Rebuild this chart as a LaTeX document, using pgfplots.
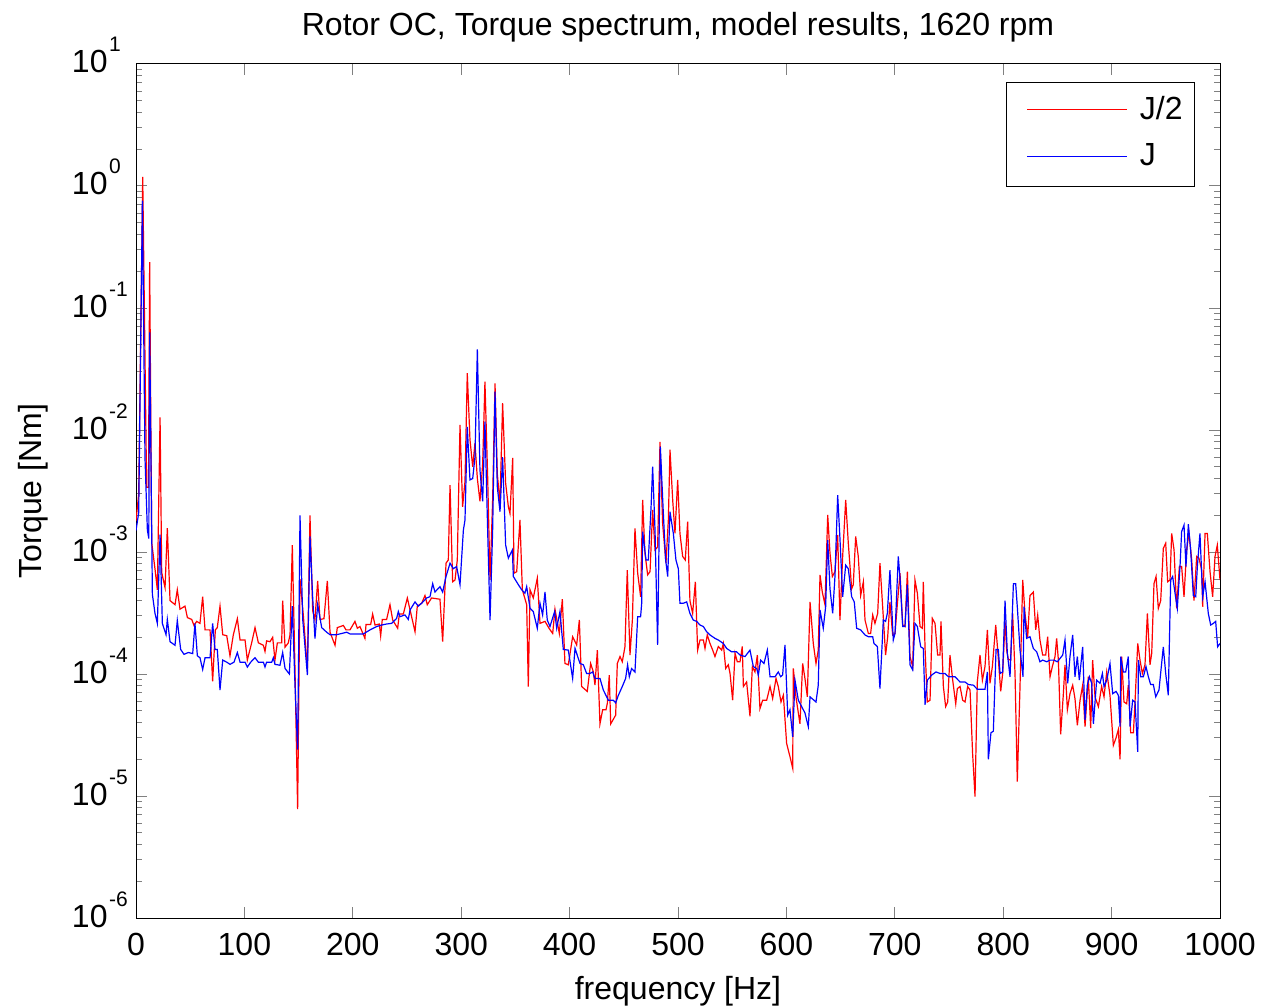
\documentclass[border=0pt]{standalone}
\usepackage{fontspec}
\setmainfont{Liberation Sans}
\usepackage{pgfplots}
\pgfplotsset{compat=1.18}
\newcommand{\f}{\fontsize{16}{19}\selectfont}
\newcommand{\ex}[1]{10\kern0.8pt\raisebox{10.5pt}{\fontsize{10.5}{12}\selectfont #1}}
\begin{document}
\begin{tikzpicture}
\useasboundingbox (-68pt,-44pt) rectangle (563.5pt,459pt);
\begin{axis}[
  at={(0pt,0pt)}, anchor=south west,
  scale only axis, width=542pt, height=427pt,
  xmin=0, xmax=1000, ymode=log, ymin=1e-6, ymax=10,
  xtick={0,100,200,300,400,500,600,700,800,900,1000},
  xticklabels={0,100,200,300,400,500,600,700,800,900,1000},
  ytick={1e-6,1e-5,1e-4,1e-3,1e-2,1e-1,1,10},
  yticklabels={\ex{-6},\ex{-5},\ex{-4},\ex{-3},\ex{-2},\ex{-1},\ex{0},\ex{1}},
  minor ytick={2e-6,3e-6,4e-6,5e-6,6e-6,7e-6,8e-6,9e-6,2e-5,3e-5,4e-5,5e-5,6e-5,7e-5,8e-5,9e-5,2e-4,3e-4,4e-4,5e-4,6e-4,7e-4,8e-4,9e-4,2e-3,3e-3,4e-3,5e-3,6e-3,7e-3,8e-3,9e-3,2e-2,3e-2,4e-2,5e-2,6e-2,7e-2,8e-2,9e-2,0.2,0.3,0.4,0.5,0.6,0.7,0.8,0.9,2,3,4,5,6,7,8,9},
  tick pos=both, tick align=inside,
  major tick length=5.5pt, minor tick length=3pt,
  tick style={line width=0.5pt},
  axis line style={line width=0.5pt},
  xticklabel style={font=\f, anchor=base, yshift=-18.5pt, inner sep=0pt},
  yticklabel style={font=\f, anchor=base west, xshift=-32.2pt, yshift=-4.5pt, inner sep=0pt},
  title={Rotor OC, Torque spectrum, model results, 1620 rpm},
  title style={at={(axis description cs:0.5,1)}, anchor=base, yshift=8pt, font=\f, inner sep=0pt},
  xlabel={frequency [Hz]},
  xlabel style={at={(axis description cs:0.5,-0.0960)}, anchor=base, font=\f, inner sep=0pt},
  ylabel={Torque [Nm]},
  ylabel style={at={(axis description cs:-0.0876,0.5)}, anchor=base, rotate=0, font=\f, inner sep=0pt},
  legend style={name=leg, at={(axis description cs:0.9769,0.9789)}, anchor=north east, draw=none, fill=white, font=\f, inner xsep=6pt, inner ysep=7pt, row sep=8pt, column sep=6pt, nodes={inner sep=0pt, text height=11.5pt, text depth=3.5pt}},
  legend cell align=left,
  legend image code/.code={\path (-4pt,0pt) (50pt,0pt);},
]
\addplot[color=red, line width=0.6pt] coordinates {
(0,1.8e-3)(2.5,3.0e-3)(6.2,1.19)(9.8,3.4e-3)(11.5,3.4e-3)(12.6,0.238)(14.5,1.19e-3)(17.5,7.3e-4)(19.7,4.9e-4)(22.2,1.27e-2)(23.7,6.8e-4)(26.8,5.1e-4)(28.9,1.57e-3)(31.4,4.0e-4)(36,3.7e-4)(38.1,4.9e-4)(40.6,3.4e-4)(45.2,3.6e-4)(47.4,2.9e-4)(51.4,2.8e-4)(53.5,2.5e-4)(56,2.7e-4)(59,2.6e-4)(61.5,4.3e-4)(63.7,2.3e-4)(68.3,2.3e-4)(70.7,8.7e-5)(73.2,2.3e-4)(75,2.4e-4)(77.5,3.6e-4)(80,2.1e-4)(83.7,2.06e-4)(86.7,1.41e-4)(89.8,2.1e-4)(93.5,2.84e-4)(96,1.9e-4)(100.6,1.9e-4)(102.7,1.3e-4)(106.7,1.8e-4)(109.8,2.4e-4)(112.9,1.8e-4)(117.5,1.72e-4)(119,1.53e-4)(120.5,1.87e-4)(123.6,1.84e-4)(126.1,2.0e-4)(128.2,1.3e-4)(130.4,1.8e-4)(134.4,1.8e-4)(135.3,4.0e-4)(137.5,1.66e-4)(140.5,1.8e-4)(142.1,2.1e-4)(144.2,1.14e-3)(146.7,1.06e-4)(149.1,7.8e-6)(151.3,6e-4)(154.4,3.0e-4)(158.1,1.1e-4)(160.5,2.0e-3)(163,3.3e-4)(165.1,2.8e-4)(167.6,5.8e-4)(169.7,2.8e-4)(173.4,2.84e-4)(176.5,5.8e-4)(179,2.2e-4)(183.6,1.72e-4)(185.7,2.4e-4)(191.3,2.5e-4)(193.7,2.3e-4)(197.4,2.3e-4)(202,2.7e-4)(204.2,2.37e-4)(206.6,2.45e-4)(211.2,1.96e-4)(212.2,2.55e-4)(216.5,2.55e-4)(218.3,3.1e-4)(220.5,2.52e-4)(224.5,2.57e-4)(225.7,2.05e-4)(227.2,2.8e-4)(231.2,2.8e-4)(234.3,3.7e-4)(236.8,2.77e-4)(241.4,2.37e-4)(242.9,3.1e-4)(246.6,3.1e-4)(250.3,4.2e-4)(253.7,3.1e-4)(257.4,2.22e-4)(259.5,3.6e-4)(263.5,3.8e-4)(266.6,4.4e-4)(268.7,3.7e-4)(272.7,4.2e-4)(280.4,4.1e-4)(282.9,1.84e-4)(286,8.1e-4)(288.1,8.6e-4)(289.7,3.54e-3)(292.1,5.7e-4)(294.3,5.9e-4)(296.4,8.6e-4)(298.9,1.1e-2)(301.3,2.35e-3)(303.5,3.8e-3)(305.6,2.92e-2)(308.1,8.3e-3)(310.6,5.0e-3)(312.7,7.8e-3)(314.9,4.0e-3)(317.3,2.6e-3)(319.8,5.3e-3)(321.9,2.49e-2)(324.4,4.15e-3)(326.6,5.9e-4)(329,2.67e-3)(331.2,2.41e-2)(333.3,4.4e-3)(335.8,2.5e-3)(338.2,1.66e-2)(341,3.66e-3)(343.5,2.35e-3)(345,2.07e-3)(347.5,5.9e-3)(348.7,6.7e-4)(351.2,6.9e-4)(354.2,1.83e-3)(356.4,4.9e-4)(360.4,3.7e-4)(361.9,7.9e-5)(363.5,4.9e-4)(366.5,4.2e-4)(370.2,6.1e-4)(372.7,2.6e-4)(377.3,2.7e-4)(381,2.37e-4)(384.4,2.15e-4)(386.5,3.4e-4)(390.5,2.15e-4)(393.3,4.1e-4)(395.7,1.22e-4)(398.8,1.19e-4)(402.8,2.02e-4)(406.5,1.73e-4)(409,2.77e-4)(411.1,7.9e-5)(416.3,7.2e-5)(419.4,1.22e-4)(421.9,1.04e-4)(423.4,8.1e-5)(425.6,1.57e-4)(428,3.9e-5)(430.5,5.1e-5)(433.6,5.1e-5)(434.8,5.75e-5)(436.6,9.8e-5)(437.9,3.9e-5)(440.3,4.25e-5)(442.5,4.6e-5)(444,1.22e-4)(446.5,1.39e-4)(448.6,1.26e-4)(451.1,1.68e-4)(453.2,7.1e-4)(455.7,1.43e-4)(457.9,2.77e-4)(460.3,1.56e-3)(462.8,6.7e-4)(465.5,4.3e-4)(467.4,2.67e-3)(469.5,9.8e-4)(472,6.5e-4)(474.2,6.9e-4)(476.6,2.21e-3)(478.8,1.04e-3)(481.2,1.1e-3)(483.4,8.0e-3)(485.8,1.72e-3)(488.9,8.1e-4)(491.1,1.83e-3)(492.6,6.9e-3)(495.1,2.67e-3)(497.2,1.42e-3)(499.7,3.9e-3)(501.8,1.42e-3)(504.3,9.2e-4)(506.7,8.6e-4)(508.9,1.77e-3)(511,4.0e-4)(513.5,3.14e-4)(516,5.7e-4)(518.1,1.57e-4)(520.3,1.9e-4)(523.4,1.9e-4)(524.9,1.62e-4)(527,2.09e-4)(529.5,1.78e-4)(532,1.57e-4)(534.1,1.39e-4)(537.2,1.68e-4)(540.3,1.57e-4)(541.8,1.78e-4)(544,1.11e-4)(546.4,1.19e-4)(548,1.01e-4)(550.4,6.1e-5)(552.6,1.48e-4)(554.7,1.26e-4)(557.2,1.26e-4)(559.3,1.68e-4)(560.3,7.9e-5)(563.3,8.6e-5)(566.4,4.5e-5)(568.6,1.15e-4)(571,1.04e-4)(573.2,1.43e-4)(575.6,5.2e-5)(578.1,6.1e-5)(581.8,6.1e-5)(584.9,7.9e-5)(587.3,6.3e-5)(590.4,9.2e-5)(592.5,7.9e-5)(595,5.9e-5)(597.2,6.7e-5)(600.2,2.7e-5)(603.3,2.1e-5)(605.8,1.69e-5)(606.4,1.11e-4)(608.8,6.5e-5)(611,4.8e-5)(612.5,3.9e-5)(615,1.22e-4)(617.1,9.2e-5)(619.3,6.5e-5)(621.8,3.9e-4)(624.8,1.78e-4)(627.3,1.22e-4)(629.4,1.57e-4)(631,6.5e-4)(633.1,4.7e-4)(635.6,3.7e-4)(638.1,2.01e-3)(640.2,9.8e-4)(642.4,6.3e-4)(644.8,6.9e-4)(647.3,1.38e-3)(649.4,2.77e-4)(651.9,9.2e-4)(654.7,2.67e-3)(657.1,1.18e-3)(660.2,5.0e-4)(661.7,5.4e-4)(663.9,1.34e-3)(666.3,9.2e-4)(668.5,4.4e-4)(671,5.7e-4)(672.5,2.77e-4)(675.6,2.15e-4)(677.7,2.15e-4)(679.6,3.05e-4)(681.7,2.6e-4)(684.2,3.14e-4)(686.3,8.1e-4)(688.8,3.56e-4)(691.5,1.43e-4)(693.4,2.0e-4)(695.5,3.9e-4)(698,2.09e-4)(700.2,2.15e-4)(702.3,3.7e-4)(704.8,6.7e-4)(707.3,2.52e-4)(709.4,2.45e-4)(711.6,6.9e-4)(714,1.39e-4)(716.5,1.15e-4)(718.6,5.9e-4)(720.8,4.6e-4)(723.3,2.45e-4)(725.4,2.37e-4)(726.3,5.7e-4)(727.9,1.62e-4)(730,5.9e-5)(732.5,6.1e-5)(734.6,2.86e-4)(737.1,2.6e-4)(739.5,1.43e-4)(741.7,1.43e-4)(742.6,2.7e-4)(744.8,7.9e-5)(746.9,5.4e-5)(748.8,5.9e-5)(750.9,1.43e-4)(753.4,8.9e-5)(756.2,5.7e-5)(757.7,7.6e-5)(760.2,7.9e-5)(762.6,6.1e-5)(764.8,5.9e-5)(767.2,7.9e-5)(769.4,7.4e-5)(771.8,2.2e-5)(774,9.9e-6)(776.1,8.6e-5)(778.6,1.43e-4)(780.8,8.9e-5)(783.2,1.15e-4)(785.4,2.3e-4)(787.8,8.4e-5)(790,1.15e-4)(793.1,2.52e-4)(794.9,1.57e-4)(797.7,7.2e-5)(799.5,1.01e-4)(801.7,2.7e-4)(803.2,1.57e-4)(804.7,1.32e-4)(806.9,1.3e-4)(808.7,3.14e-4)(810.9,1.01e-4)(813,1.31e-5)(815.5,7.9e-5)(818,5.9e-4)(820.1,3.14e-4)(822.6,2.02e-4)(824.7,4.4e-4)(827.8,4.7e-4)(830,2.3e-4)(831.8,3.04e-4)(833.9,1.9e-4)(836.4,1.43e-4)(839.2,1.43e-4)(841,2.02e-4)(843.2,9.5e-5)(845.3,1.15e-4)(847.8,1.39e-4)(849.3,1.96e-4)(850.9,1.3e-4)(853,3.2e-5)(855.5,6.9e-5)(857,1.19e-4)(859.2,5.1e-5)(861.6,6.9e-5)(864.1,8.1e-5)(866.2,6.3e-5)(868.4,3.8e-5)(870.9,6.1e-5)(873.3,8.1e-5)(875.5,3.7e-5)(878.5,9.5e-5)(880.7,3.6e-5)(882.5,1.3e-4)(884.7,6.5e-5)(887.8,5.4e-5)(890.8,7.9e-5)(893,6.5e-5)(895.5,1.04e-4)(898.5,6.7e-5)(901.6,2.6e-5)(904.1,3.0e-5)(906.2,3.5e-5)(907.8,2.0e-5)(909.3,1.39e-4)(911.4,5.9e-5)(913.9,5.7e-5)(915.4,8.1e-5)(917.6,3.3e-5)(920.1,3.3e-5)(921.6,5.9e-5)(924.1,1.78e-4)(926.2,1.3e-4)(928.4,1.01e-4)(930.8,1.19e-4)(933,3.14e-4)(935.4,1.19e-4)(937,1.48e-4)(939.1,5.5e-4)(941,6.3e-4)(943.1,3.45e-4)(945.3,4.0e-4)(947.7,1.07e-3)(949.9,1.18e-3)(951.7,5.7e-4)(953.9,5.9e-4)(955.4,1.42e-3)(957.6,1.04e-3)(960,3.45e-4)(962.5,7.6e-4)(964.6,7.6e-4)(966.8,4.3e-4)(969.2,1.04e-3)(971.4,1.42e-3)(973.9,8.6e-4)(976,4.0e-4)(978.5,9.2e-4)(980.6,8.9e-4)(983.1,7.1e-4)(984,3.56e-4)(986.2,1.42e-3)(988.3,1.42e-3)(990.8,6.9e-4)(993.2,4.3e-4)(995.4,9.2e-4)(997.5,1.14e-3)(1000,5.9e-4)
};
\addlegendentry{J/2}
\addplot[color=blue, line width=0.6pt] coordinates {
(0,1.5e-3)(2.5,2.1e-3)(5.9,0.76)(8.3,5.9e-3)(10.5,1.51e-3)(11.8,1.29e-3)(12.6,0.063)(15.1,4.5e-4)(17.5,3.15e-4)(19.7,2.6e-4)(22.2,1.39e-3)(24.3,2.6e-4)(27.7,2.1e-4)(28.9,2.8e-4)(31.4,1.84e-4)(36,1.72e-4)(38.1,2.75e-4)(41.2,1.59e-4)(44.3,1.45e-4)(48.3,1.5e-4)(52.3,1.47e-4)(54.4,2.6e-4)(56.6,1.41e-4)(59,1.36e-4)(61.5,1.09e-4)(63.7,1.36e-4)(68.3,1.36e-4)(70.7,2.6e-4)(72.9,1.59e-4)(75,1.59e-4)(77.5,7.4e-5)(80,1.3e-4)(83.7,1.25e-4)(86.7,1.2e-4)(90.4,1.25e-4)(93.5,1.5e-4)(96,1.25e-4)(100.6,1.25e-4)(102.7,1.14e-4)(105.8,1.25e-4)(109.8,1.36e-4)(112.9,1.25e-4)(117.5,1.25e-4)(119,1.14e-4)(120.5,1.25e-4)(125.2,1.25e-4)(126.7,1.36e-4)(128.2,1.2e-4)(132.8,1.18e-4)(135.3,1.5e-4)(137.5,1.11e-4)(141.5,1.0e-4)(144.2,3.6e-4)(146.7,8.0e-5)(149.1,2.4e-5)(151.3,2.0e-3)(153.8,2.8e-4)(158.1,9.8e-5)(160.5,1.34e-3)(163,4.2e-4)(165.1,1.95e-4)(167.6,3.7e-4)(171.3,2.4e-4)(175.9,2.2e-4)(179,2.1e-4)(185.1,2.1e-4)(194.4,2.2e-4)(197.4,2.13e-4)(209.7,2.13e-4)(215.9,2.3e-4)(222,2.45e-4)(226.6,2.52e-4)(231.2,2.57e-4)(235.8,2.6e-4)(240.4,2.85e-4)(242,3.25e-4)(243.5,2.95e-4)(248.1,3.05e-4)(251.2,2.8e-4)(252.8,3.35e-4)(257.4,3.9e-4)(260.4,3.6e-4)(263.5,3.8e-4)(268.1,4.2e-4)(271.2,4.3e-4)(273.7,5.5e-4)(275.8,4.7e-4)(280.4,5.2e-4)(282.9,4.7e-4)(286,6.3e-4)(289.7,8.1e-4)(292.7,7.3e-4)(295.8,7.6e-4)(298.9,5.4e-4)(302,1.51e-3)(303.5,1.83e-3)(305.6,1.06e-2)(308.1,3.9e-3)(310.6,4.0e-3)(312.7,6.0e-3)(314.9,4.58e-2)(317.3,4.7e-3)(319.8,2.6e-3)(321.9,1.17e-2)(324.4,1.51e-3)(326.6,2.77e-4)(329,1.51e-3)(331.2,2.06e-2)(333.3,3.43e-3)(335.8,2.14e-3)(338.2,6.0e-3)(341,1.14e-3)(343.5,8.9e-4)(347.2,1.04e-3)(348.1,6.3e-4)(352.7,5.4e-4)(355.8,4.9e-4)(358.8,4.6e-4)(360.4,5.2e-4)(363.5,3.45e-4)(366.5,3.25e-4)(370.2,2.37e-4)(372.7,3.8e-4)(375.1,3.05e-4)(377.3,4.7e-4)(379.4,2.77e-4)(381.9,2.45e-4)(386.2,3.25e-4)(388.1,2.37e-4)(391.1,3.25e-4)(394.2,1.59e-4)(398.8,1.57e-4)(402.8,9.2e-5)(405,1.62e-4)(409.6,1.22e-4)(412.7,1.19e-4)(415.7,1.01e-4)(418.8,1.01e-4)(421.3,1.04e-4)(423.4,9.2e-5)(428,9.2e-5)(431.1,7.4e-5)(435.7,6.1e-5)(440.3,6.1e-5)(442.5,5.8e-5)(445,6.7e-5)(448.6,7.9e-5)(451.7,9.2e-5)(453.5,1.19e-4)(455.1,9.5e-5)(457.2,1.11e-4)(460.3,1.04e-4)(462.8,2.95e-4)(465.5,2.95e-4)(466.5,3.8e-4)(467.4,1.47e-3)(470.5,8.6e-4)(472.6,8.6e-4)(475.1,2.28e-3)(476.6,5.0e-3)(478.8,1.51e-3)(481.2,1.73e-4)(483.7,7.3e-3)(486.4,2.14e-3)(488.6,8.6e-4)(490.5,6.3e-4)(492.6,2.14e-3)(495.7,1.42e-3)(498.1,8.6e-4)(500.3,7.3e-4)(501.8,3.8e-4)(504.9,3.8e-4)(508,3.9e-4)(511,3.14e-4)(514.1,2.77e-4)(517.2,2.7e-4)(520.3,2.52e-4)(523.4,2.45e-4)(526.4,2.22e-4)(529.5,2.09e-4)(534.1,1.96e-4)(537.2,1.9e-4)(541.8,1.78e-4)(544.9,1.62e-4)(549.5,1.52e-4)(554.1,1.52e-4)(557.2,1.43e-4)(561.8,1.39e-4)(566.4,1.57e-4)(569.5,1.15e-4)(572.6,1.11e-4)(574.1,9.8e-5)(576.2,1.3e-4)(579.3,1.22e-4)(582.4,1.57e-4)(584.9,9.5e-5)(589.5,9.5e-5)(592.5,1.04e-4)(594.7,9.5e-5)(596.5,9.8e-5)(598.7,1.73e-4)(601.2,4.6e-5)(603.3,5.1e-5)(605.8,3.06e-5)(607.9,8.9e-5)(611,6.1e-5)(614.1,5.4e-5)(617.1,4.8e-5)(620.2,3.7e-5)(621.8,6.5e-5)(625.4,6.1e-5)(627.3,5.9e-5)(629.4,8.1e-5)(631,3.35e-4)(634,2.37e-4)(636.2,3.56e-4)(638.1,1.25e-3)(640.2,5.0e-4)(642.7,3.14e-4)(644.8,6.3e-4)(647.3,2.93e-3)(649.4,1.29e-3)(651.9,4.3e-4)(654.7,7.8e-4)(657.1,7.3e-4)(660.2,4.3e-4)(662.6,3.9e-4)(664.8,2.37e-4)(668.5,2.3e-4)(672.5,2.09e-4)(675.6,2.02e-4)(679.6,2.02e-4)(680.8,1.78e-4)(683.9,1.68e-4)(686.3,7.6e-5)(689.4,2.77e-4)(691.5,2.7e-4)(693.1,3.14e-4)(695.5,7.1e-4)(698.6,1.9e-4)(700.2,2.15e-4)(703.2,9.2e-4)(704.8,6.1e-4)(707.3,2.45e-4)(709.4,2.45e-4)(711.6,5.4e-4)(714,1.19e-4)(716.5,1.08e-4)(718.6,2.6e-4)(720.8,2.45e-4)(723.9,1.67e-4)(726.3,1.62e-4)(727.9,5.6e-5)(730,8.9e-5)(734,9.8e-5)(738,1.04e-4)(741.7,1.01e-4)(746.3,1.01e-4)(749.4,9.5e-5)(755.5,9.5e-5)(760.2,8.6e-5)(764.8,8.6e-5)(767.8,8.2e-5)(772.5,8.1e-5)(776.1,7.5e-5)(783.2,7.5e-5)(785.4,1.04e-4)(786.3,2.0e-5)(788.7,3.3e-5)(790.9,3.4e-5)(793.4,1.59e-4)(795.5,1.59e-4)(797.1,1.01e-4)(799.5,1.04e-4)(801.7,4.0e-4)(803.8,1.48e-4)(806.3,9.5e-5)(809.4,5.5e-4)(811.5,5.5e-4)(813,3.56e-4)(815.5,1.57e-4)(818.3,9.5e-5)(819.2,3.56e-4)(821.6,1.96e-4)(824.7,2.02e-4)(827.8,1.62e-4)(830.9,1.52e-4)(833.9,1.26e-4)(836.4,1.3e-4)(840.1,1.26e-4)(843.2,1.3e-4)(846.9,1.3e-4)(849.9,1.26e-4)(854.9,1.43e-4)(857,1.9e-4)(859.5,8.4e-5)(861.6,1.39e-4)(864.1,2.09e-4)(866.2,9.5e-5)(868.4,1.39e-4)(870.2,8.9e-5)(873.3,1.67e-4)(875.5,4.2e-5)(877.6,8.1e-5)(879.5,9.5e-5)(881.6,8.4e-5)(883.2,3.9e-5)(886.2,8.9e-5)(889.3,8.4e-5)(891.5,1.01e-4)(893,7.9e-5)(895.5,8.9e-5)(898.5,1.22e-4)(901,6.9e-5)(904.1,7.2e-5)(906.2,6.7e-5)(907.8,3.7e-5)(908.4,1.39e-4)(910.8,1.04e-4)(913,1.04e-4)(915.4,1.39e-4)(917,3.7e-5)(919.4,6.1e-5)(921.6,5.9e-5)(924.1,2.3e-5)(924.7,1.3e-4)(926.8,9.5e-5)(929.3,9.5e-5)(931.7,1.15e-4)(933.9,9.5e-5)(936,8.2e-5)(938.5,8.2e-5)(940.7,6.5e-5)(943.7,7.4e-5)(947.7,1.67e-4)(949.9,1.01e-4)(952.3,6.7e-5)(954.5,5.9e-4)(956.3,6.3e-4)(958.5,4.6e-4)(960.6,3.45e-4)(963.1,7.6e-4)(964.6,1.47e-3)(966.8,1.66e-3)(968.6,7.6e-4)(970.8,1.69e-3)(972.9,1.04e-3)(975.4,4.4e-4)(977.6,4.3e-4)(979.1,7.6e-4)(981.5,1.42e-3)(984,4.3e-4)(986.2,5.7e-4)(989.2,3.14e-4)(991.4,2.52e-4)(993.9,2.6e-4)(996,2.7e-4)(997.8,1.67e-4)(1000,1.78e-4)
};
\addlegendentry{J}
\end{axis}
\draw[line width=0.5pt] (leg.south west) rectangle (leg.north east);
\node[inner sep=0pt, anchor=west, text height=0pt, text depth=0pt] at ([shift={(10.3pt,-13.7pt)}]leg.north west) {\textcolor{red}{\rule[-0.3pt]{50pt}{0.6pt}}};
\node[inner sep=0pt, anchor=west, text height=0pt, text depth=0pt] at ([shift={(10.3pt,-37.3pt)}]leg.north west) {\textcolor{blue}{\rule[-0.3pt]{50pt}{0.6pt}}};
\end{tikzpicture}
\end{document}
